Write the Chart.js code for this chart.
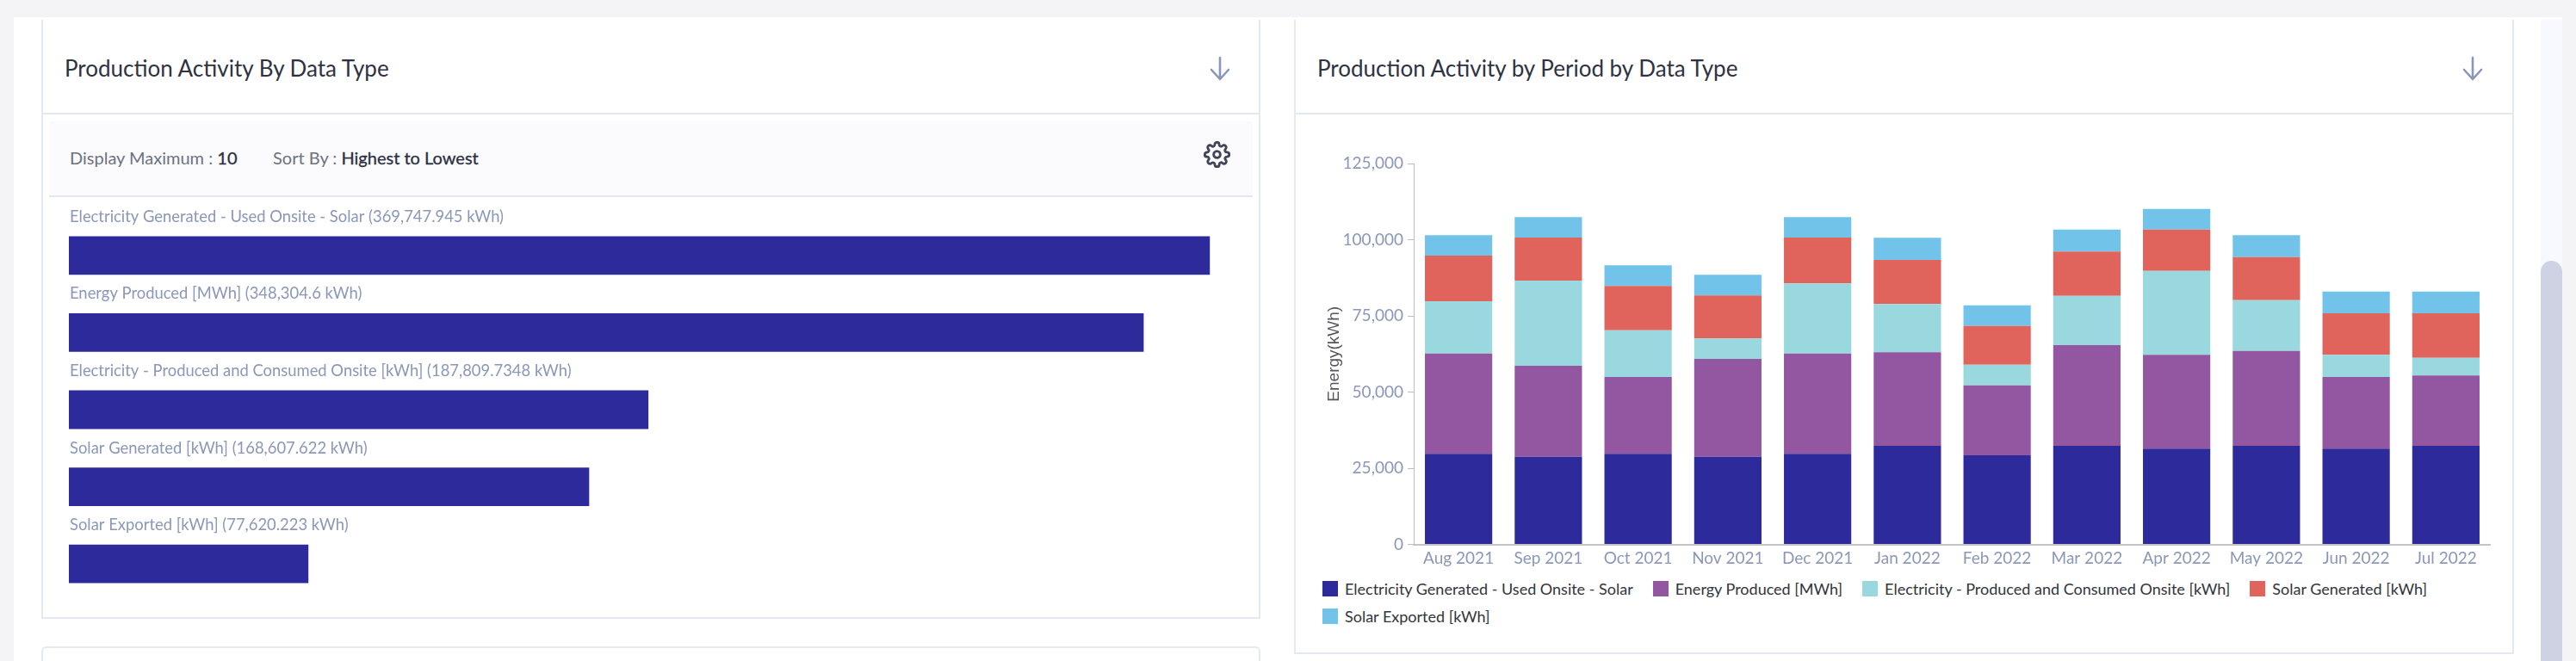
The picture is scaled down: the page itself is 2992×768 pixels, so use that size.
<!DOCTYPE html>
<html>
<head>
<meta charset="utf-8">
<title>Production Activity</title>
<script src="https://cdn.jsdelivr.net/npm/chart.js@4"></script>
<style>
  html, body { margin: 0; padding: 0; width: 2992px; height: 768px; overflow: hidden; background: #f4f4f6; }
  body { position: relative; font-family: Lato, "Noto Sans", sans-serif; }
  .abs { position: absolute; box-sizing: border-box; }
  .panel { left: 16px; top: 20px; width: 2960px; height: 748px; background: #fff; }
  .card { background: #fff; border: 2px solid #e4e8f2; }
  .card-1 { left: 48px; top: 23px; width: 1416px; height: 696px; border-top: 0; }
  .card-2 { left: 1503px; top: 23px; width: 1417px; height: 737px; border-top: 0; }
  .card-3 { left: 48px; top: 751px; width: 1416px; height: 40px; border-radius: 6px; }
  .rule { height: 2px; top: 131px; background: #e4e8f2; }
  .title { top: 61px; font-size: 26px; line-height: 36px; color: #2f3243; white-space: nowrap; }
  .toolbar { left: 57px; top: 141px; width: 1398px; height: 88px; background: #fbfbfd; border-bottom: 2px solid #e4e8f2; }
  .filter { top: 170px; font-size: 20px; line-height: 26px; color: #6d7280; white-space: nowrap; }
  .filter b { font-weight: 400; color: #2b2f42; -webkit-text-stroke: 0.3px #2b2f42; }
  .track { left: 2951px; top: 23px; width: 25px; height: 745px; background: #f8f9fe; }
  .thumb { left: 2951px; top: 303px; width: 25px; height: 480px; background: #cdd3e2; border-radius: 13px 13px 0 0; }
  canvas { position: absolute; display: block; }
  #period-legend { left: 1536px; top: 675px; width: 1359px; display: flex; flex-wrap: wrap; column-gap: 23px; row-gap: 14px; font-size: 18px; line-height: 18px; color: #33343c; }
  .legend-item { display: flex; align-items: center; gap: 8px; white-space: nowrap; height: 18px; }
  .legend-box { width: 18px; height: 18px; box-sizing: border-box; }
</style>
</head>
<body>
  <div class="abs panel"></div>
  <div class="abs track"></div>
  <div class="abs thumb"></div>

  <!-- Left card -->
  <div class="abs card card-1"></div>
  <div class="abs rule" style="left:48px;width:1416px"></div>
  <div class="abs title" style="left:75px">Production Activity By Data Type</div>
  <svg class="abs" style="left:1405px;top:65px" width="24" height="29" viewBox="0 0 24 29" fill="none" stroke="#8b97b8" stroke-width="2.6" stroke-linecap="round" stroke-linejoin="round"><path d="M12 2v25M2 16l10 11 10-11"/></svg>
  <div class="abs toolbar"></div>
  <div class="abs filter" style="left:81px">Display Maximum : <b>10</b></div>
  <div class="abs filter" style="left:317px">Sort By : <b>Highest to Lowest</b></div>
  <svg class="abs" style="left:1398px;top:164px" width="31" height="31" viewBox="0 0 24 24" fill="none" stroke="#3f4459" stroke-width="2.2" stroke-linecap="round" stroke-linejoin="round"><circle cx="12" cy="12" r="3"/><path d="M19.4 15a1.65 1.65 0 0 0 .33 1.82l.06.06a2 2 0 0 1 0 2.83 2 2 0 0 1-2.83 0l-.06-.06a1.65 1.65 0 0 0-1.82-.33 1.65 1.65 0 0 0-1 1.51V21a2 2 0 0 1-2 2 2 2 0 0 1-2-2v-.09A1.65 1.65 0 0 0 9 19.4a1.65 1.65 0 0 0-1.82.33l-.06.06a2 2 0 0 1-2.83 0 2 2 0 0 1 0-2.83l.06-.06a1.65 1.65 0 0 0 .33-1.82 1.65 1.65 0 0 0-1.51-1H3a2 2 0 0 1-2-2 2 2 0 0 1 2-2h.09A1.65 1.65 0 0 0 4.6 9a1.65 1.65 0 0 0-.33-1.82l-.06-.06a2 2 0 0 1 0-2.83 2 2 0 0 1 2.83 0l.06.06a1.65 1.65 0 0 0 1.82.33H9a1.65 1.65 0 0 0 1-1.51V3a2 2 0 0 1 2-2 2 2 0 0 1 2 2v.09a1.65 1.65 0 0 0 1 1.51 1.65 1.65 0 0 0 1.82-.33l.06-.06a2 2 0 0 1 2.83 0 2 2 0 0 1 0 2.83l-.06.06a1.65 1.65 0 0 0-.33 1.82V9a1.65 1.65 0 0 0 1.51 1H21a2 2 0 0 1 2 2 2 2 0 0 1-2 2h-.09a1.65 1.65 0 0 0-1.51 1z"/></svg>
  <canvas id="type-chart" width="1362" height="468" style="left:79.5px;top:232px"></canvas>
  <div class="abs card card-3"></div>

  <!-- Right card -->
  <div class="abs card card-2"></div>
  <div class="abs rule" style="left:1503px;width:1417px"></div>
  <div class="abs title" style="left:1530px">Production Activity by Period by Data Type</div>
  <svg class="abs" style="left:2860px;top:65px" width="24" height="29" viewBox="0 0 24 29" fill="none" stroke="#8b97b8" stroke-width="2.6" stroke-linecap="round" stroke-linejoin="round"><path d="M12 2v25M2 16l10 11 10-11"/></svg>
  <canvas id="period-chart" width="1363" height="495" style="left:1530px;top:170px"></canvas>
  <div id="period-legend" class="abs"></div>

<script>
// Left chart: totals per data type (kWh)
const typeNames = [
  'Electricity Generated - Used Onsite - Solar',
  'Energy Produced [MWh]',
  'Electricity - Produced and Consumed Onsite [kWh]',
  'Solar Generated [kWh]',
  'Solar Exported [kWh]',
];
const typeTotals = [369747.945, 348304.6, 187809.7348, 168607.622, 77620.223];

// Right chart: monthly values per data type
const months = ['Aug 2021', 'Sep 2021', 'Oct 2021', 'Nov 2021', 'Dec 2021', 'Jan 2022', 'Feb 2022', 'Mar 2022', 'Apr 2022', 'May 2022', 'Jun 2022', 'Jul 2022'];
const usedOnsite = [29700, 28760, 29700, 28760, 29700, 32350, 29240, 32350, 31410, 32350, 31410, 32350];
const energyProduced = [32960, 29860, 25250, 32120, 32960, 30700, 22970, 33050, 30800, 31160, 23540, 23080];
const producedConsumed = [17140, 27970, 15340, 6690, 22990, 15820, 6780, 16190, 27570, 16660, 7260, 5820];
const solarGenerated = [14980, 14120, 14510, 14130, 15060, 14500, 12710, 14520, 13560, 14130, 13640, 14600];
const solarExported = [6690, 6690, 6780, 6770, 6690, 7250, 6780, 7230, 6780, 7170, 7150, 7150];
const energyTicks = [0, 25000, 50000, 75000, 100000, 125000];

const seriesColors = ['#2d2a9b', '#9356a0', '#9ad8df', '#e0635c', '#72c3e9'];
const tickColor = '#8b97b8';
const fontFamily = 'Lato, "Noto Sans", sans-serif';

Chart.defaults.animation = false;
Chart.defaults.responsive = false;
Chart.defaults.devicePixelRatio = 1;

const typeLabels = typeNames.map((name, i) =>
  `${name} (${typeTotals[i].toLocaleString('en-US', { maximumFractionDigits: 4 })} kWh)`);

new Chart(document.getElementById('type-chart'), {
  type: 'bar',
  data: {
    labels: typeLabels,
    datasets: [{
      data: typeTotals,
      backgroundColor: seriesColors[0],
      categoryPercentage: 0.5,
      barPercentage: 1,
    }],
  },
  options: {
    indexAxis: 'y',
    layout: { padding: { top: 20 } },
    plugins: { legend: { display: false }, tooltip: { enabled: false } },
    scales: {
      x: { display: false, min: 0, max: 380000 },
      y: {
        grid: { display: false, drawTicks: false },
        border: { display: false },
        ticks: {
          mirror: true,
          padding: 1,
          labelOffset: -45,
          color: tickColor,
          autoSkip: false,
          font: { family: fontFamily, size: 18.4 },
        },
        afterFit(scale) {
          scale.width = 0;
          scale.paddingTop = 0;
          scale.paddingBottom = 0;
        },
      },
    },
  },
});

const periodChart = new Chart(document.getElementById('period-chart'), {
  type: 'bar',
  data: {
    labels: months,
    datasets: [
      { label: typeNames[0], data: usedOnsite },
      { label: typeNames[1], data: energyProduced },
      { label: typeNames[2], data: producedConsumed },
      { label: typeNames[3], data: solarGenerated },
      { label: typeNames[4], data: solarExported },
    ].map((ds, i) => ({ ...ds, backgroundColor: seriesColors[i], categoryPercentage: 0.75, barPercentage: 1 })),
  },
  options: {
    layout: { padding: { top: 20 } },
    plugins: { legend: { display: false }, tooltip: { enabled: false } },
    scales: {
      x: {
        stacked: true,
        grid: { display: false, drawTicks: false },
        border: { color: '#c4c4c4', width: 2 },
        ticks: { color: tickColor, padding: 5, maxRotation: 0, autoSkip: false, font: { family: fontFamily, size: 19 } },
        afterFit(scale) {
          scale.height = 32.5;
          scale.paddingLeft = 0;
          scale.paddingRight = 0;
        },
      },
      y: {
        stacked: true,
        min: 0,
        max: 125000,
        afterBuildTicks(scale) {
          scale.ticks = energyTicks.map(value => ({ value }));
        },
        grid: { drawOnChartArea: false, tickLength: 7, color: '#bdbdbd' },
        border: { color: '#bdbdbd', width: 1 },
        ticks: {
          color: tickColor,
          padding: 5,
          font: { family: fontFamily, size: 19 },
          callback: value => value.toLocaleString('en-US'),
        },
        title: {
          display: true,
          text: 'Energy(kWh)',
          color: '#55565e',
          padding: { top: 8, bottom: 0 },
          font: { family: '"Liberation Sans", sans-serif', size: 19 },
        },
        afterFit(scale) {
          scale.width = 112;
          scale.paddingTop = 0;
          scale.paddingBottom = 0;
        },
      },
    },
  },
});

// Two-row legend with a tighter row gap than the built-in one allows
document.getElementById('period-legend').innerHTML = Chart.defaults.plugins.legend.labels
  .generateLabels(periodChart)
  .map(item => `
    <div class="legend-item">
      <span class="legend-box" style="background:${item.fillStyle}"></span>
      <span>${item.text}</span>
    </div>`)
  .join('');
</script>
</body>
</html>
